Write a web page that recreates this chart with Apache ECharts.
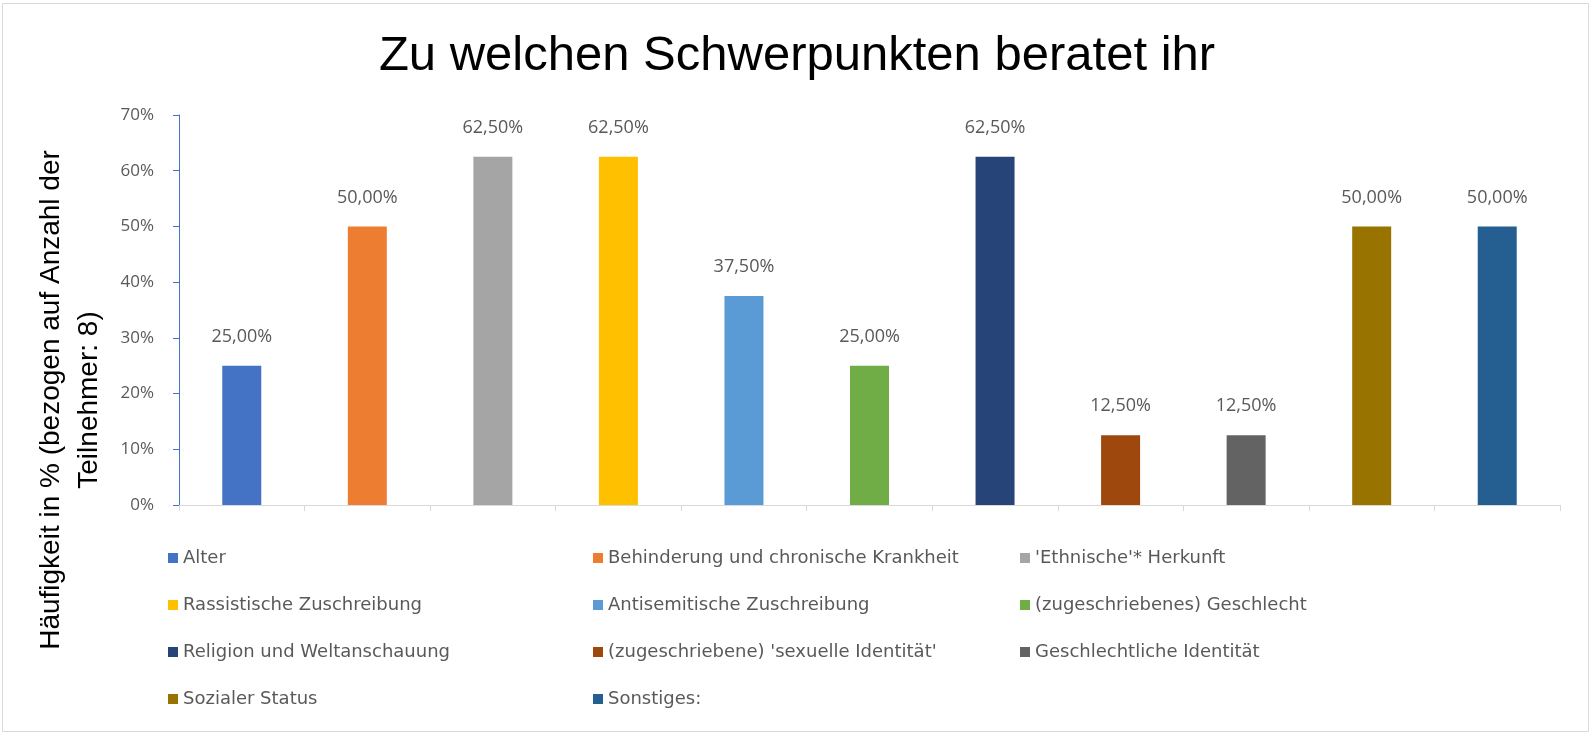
<!DOCTYPE html>
<html>
<head>
<meta charset="utf-8">
<script src="https://cdn.jsdelivr.net/npm/echarts@6/dist/echarts.min.js"></script>
<style>
  html, body { margin: 0; padding: 0; background: #fff; }
  #chart { width: 1594px; height: 735px; }
</style>
</head>
<body>
<div id="chart"></div>
<script>
// Daten
var kategorien = [
    'Alter',
    'Behinderung und chronische Krankheit',
    "'Ethnische'* Herkunft",
    'Rassistische Zuschreibung',
    'Antisemitische Zuschreibung',
    '(zugeschriebenes) Geschlecht',
    'Religion und Weltanschauung',
    "(zugeschriebene) 'sexuelle Identität'",
    'Geschlechtliche Identität',
    'Sozialer Status',
    'Sonstiges:'
];
var werte = [25, 50, 62.5, 62.5, 37.5, 25, 62.5, 12.5, 12.5, 50, 50];
var farben = ['#4472C4', '#ED7D31', '#A5A5A5', '#FFC000', '#5B9BD5', '#70AD47',
              '#264478', '#9E480E', '#636363', '#997300', '#255E91'];
var yTicks = [0, 10, 20, 30, 40, 50, 60, 70];

var chart = echarts.init(document.getElementById('chart'));

// eine Serie pro Kategorie, alle im selben Stack -> Balken mittig
var serien = kategorien.map(function (name, i) {
    return {
        name: name,
        type: 'bar',
        stack: 'alle',
        barWidth: 39,
        itemStyle: { color: farben[i] },
        label: {
            show: true,
            position: 'top',
            distance: 20,
            color: '#595959',
            fontFamily: 'Open Sans',
            fontSize: 18,
            formatter: function (p) {
                return p.value.toFixed(2).replace('.', ',') + '%';
            }
        },
        data: kategorien.map(function (c, j) { return j === i ? werte[i] : '-'; })
    };
});

var legendeStil = {
    orient: 'vertical',
    top: 543,
    itemWidth: 10,
    itemHeight: 10,
    itemGap: 27,
    icon: 'rect',
    selectedMode: false,
    textStyle: { color: '#595959', fontFamily: 'DejaVu Sans', fontSize: 18, lineHeight: 20 }
};
function legende(left, idx) {
    return Object.assign({}, legendeStil, {
        left: left,
        data: idx.map(function (i) { return kategorien[i]; })
    });
}

var option = {
    backgroundColor: '#fff',
    animation: false,
    title: {
        text: 'Zu welchen Schwerpunkten beratet ihr',
        left: 'center',
        top: 27,
        textStyle: { fontFamily: 'Liberation Sans', fontWeight: 'normal', fontSize: 49, color: '#000' }
    },
    graphic: [
        {
            type: 'rect',
            shape: { x: 2.5, y: 3.5, width: 1586, height: 728 },
            style: { fill: null, stroke: '#D9D9D9', lineWidth: 1 }
        },
        {
            type: 'text',
            x: 70,
            y: 400,
            rotation: Math.PI / 2,
            style: {
                text: 'Häufigkeit in % (bezogen auf Anzahl der\nTeilnehmer: 8)',
                align: 'center',
                verticalAlign: 'middle',
                fontFamily: 'Liberation Sans',
                fontSize: 28,
                lineHeight: 38,
                fill: '#000'
            }
        }
    ],
    legend: [
        legende(163, [0, 3, 6, 9]),
        legende(588, [1, 4, 7, 10]),
        legende(1015, [2, 5, 8])
    ],
    grid: { left: 179, right: 34, top: 115, bottom: 230 },
    xAxis: {
        type: 'category',
        data: kategorien,
        axisLabel: { show: false, interval: 0 },
        axisLine: { lineStyle: { color: '#D9D9D9', width: 1 } },
        axisTick: { show: true, interval: 0, alignWithLabel: false, length: 6, lineStyle: { color: '#D9D9D9' } }
    },
    yAxis: {
        type: 'value',
        min: yTicks[0],
        max: yTicks[yTicks.length - 1],
        interval: 10,
        splitLine: { show: false },
        axisLine: { show: true, lineStyle: { color: '#4472C4', width: 1 } },
        axisTick: { show: true, length: 6, lineStyle: { color: '#4472C4' } },
        axisLabel: {
            formatter: '{value}%',
            color: '#595959',
            fontFamily: 'Open Sans',
            fontSize: 17,
            margin: 25
        }
    },
    series: serien
};

chart.setOption(option);
</script>
</body>
</html>
